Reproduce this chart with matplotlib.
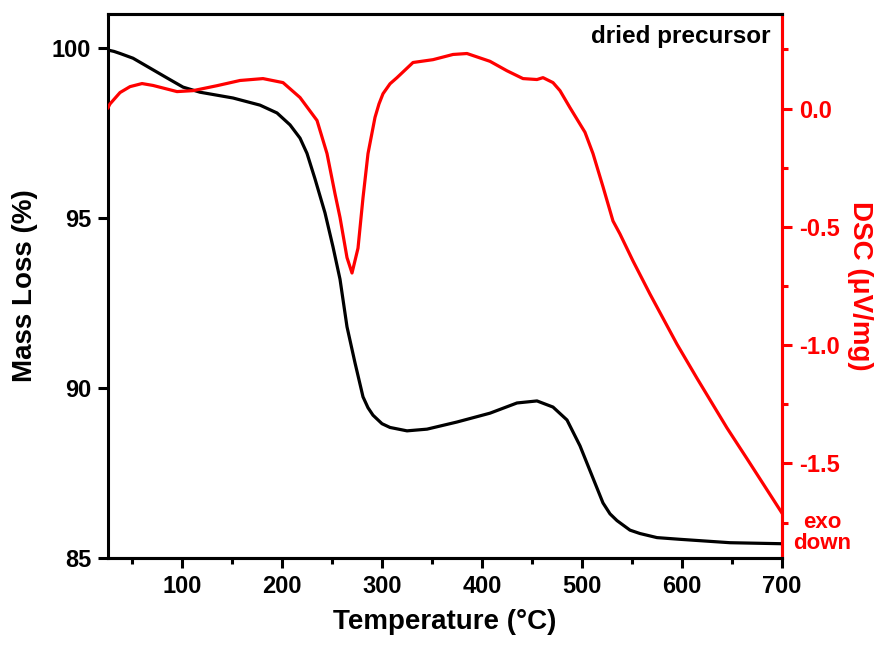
import numpy as np
import matplotlib
matplotlib.use("Agg")
from matplotlib import pyplot as plt
from matplotlib.ticker import MultipleLocator, FormatStrFormatter

plt.rcParams['font.family'] = ['Liberation Sans', 'DejaVu Sans']
plt.rcParams['font.weight'] = 'bold'

# TG curve (left axis)
T_tg = [26, 32, 38, 51, 68, 85, 101, 118, 151, 178, 195, 208, 218, 225, 233, 243, 251, 258,
        265, 273, 281, 286, 291, 300, 308, 325, 345, 375, 408, 435, 455, 471, 485, 498, 511,
        521, 528, 535, 548, 558, 575, 598, 648, 700]
mass = [99.94, 99.9, 99.84, 99.7, 99.41, 99.12, 98.85, 98.7, 98.53, 98.32, 98.09, 97.74,
        97.35, 96.9, 96.15, 95.15, 94.15, 93.2, 91.8, 90.74, 89.74, 89.42, 89.2, 88.95,
        88.84, 88.74, 88.79, 89.0, 89.26, 89.56, 89.62, 89.44, 89.06, 88.3, 87.35, 86.62,
        86.3, 86.1, 85.82, 85.72, 85.6, 85.55, 85.45, 85.42]

# DSC curve (right axis)
T_dsc = [26, 28, 38, 48, 60, 71, 95, 111, 135, 158, 181, 201, 218, 235, 245, 253, 258, 265,
         270, 276, 281, 286, 293, 297, 301, 308, 315, 331, 351, 371, 385, 408, 425, 441, 455,
         461, 471, 478, 488, 503, 511, 521, 531, 538, 551, 568, 595, 615, 645, 665, 700]
dsc = [0.004, 0.02, 0.068, 0.093, 0.106, 0.098, 0.072, 0.076, 0.097, 0.119, 0.127, 0.11,
       0.047, -0.05, -0.19, -0.36, -0.46, -0.63, -0.695, -0.59, -0.377, -0.19, -0.037,
       0.02, 0.063, 0.105, 0.131, 0.195, 0.207, 0.229, 0.233, 0.2, 0.16, 0.127, 0.123,
       0.131, 0.11, 0.076, 0.004, -0.1, -0.19, -0.33, -0.475, -0.53, -0.644, -0.784,
       -0.996, -1.14, -1.35, -1.48, -1.71]

fig = plt.figure(figsize=(8.74, 6.49), dpi=100)
ax = fig.add_axes([0.1236, 0.1402, 0.7711, 0.8382])
ax2 = ax.twinx()

ax.plot(T_tg, mass, color='black', lw=2.3, solid_joinstyle='round')
ax2.plot(T_dsc, dsc, color='red', lw=2.3, solid_joinstyle='round')

ax.set_xlim(26, 700)
ax.set_ylim(85, 101)
ax2.set_ylim(-1.9, 0.4)

ax.xaxis.set_major_locator(MultipleLocator(100))
ax.xaxis.set_minor_locator(MultipleLocator(50))
ax.yaxis.set_major_locator(MultipleLocator(5))
ax2.yaxis.set_major_locator(MultipleLocator(0.5))
ax2.yaxis.set_minor_locator(MultipleLocator(0.25))
ax2.yaxis.set_major_formatter(FormatStrFormatter('%.1f'))

for a in (ax, ax2):
    for s in a.spines.values():
        s.set_linewidth(2.2)
ax2.spines['right'].set_color('red')
ax2.spines['left'].set_visible(False)

ax.tick_params(axis='both', which='major', direction='out', length=7, width=2.2,
               labelsize=17, pad=5)
ax.tick_params(axis='x', which='minor', direction='out', length=4, width=2.2)
ax2.tick_params(axis='y', which='major', direction='out', length=7, width=2.2,
                labelsize=17, colors='red', pad=5)
ax2.tick_params(axis='y', which='minor', direction='out', length=4, width=2.2, colors='red')

for lab in ax.get_xticklabels() + ax.get_yticklabels() + ax2.get_yticklabels():
    lab.set_fontweight('bold')

ax.set_xlabel('Temperature (°C)', fontsize=20, fontweight='bold', labelpad=8)
ax.set_ylabel('Mass Loss (%)', fontsize=20, fontweight='bold', labelpad=10)
ax2.set_ylabel('DSC (μV/mg)', fontsize=20, fontweight='bold', color='red',
               rotation=-90, labelpad=24)

ax.text(0.983, 0.958, 'dried precursor', transform=ax.transAxes, ha='right', va='center',
        fontsize=17.5, fontweight='bold')
fig.text(822 / 874, 1 - 533 / 649, 'exo\ndown', ha='center', va='center', color='red',
         fontsize=16, fontweight='bold', linespacing=1.0)

fig.savefig('out.png', dpi=100)
